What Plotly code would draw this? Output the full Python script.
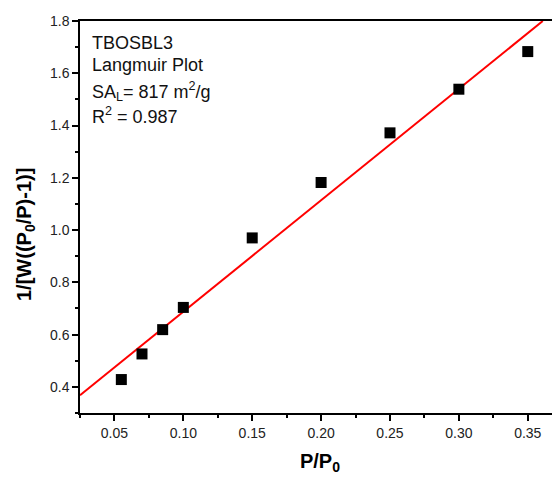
import plotly.graph_objects as go

# data
p_rel = [0.055, 0.07, 0.085, 0.10, 0.15, 0.20, 0.25, 0.30, 0.35]
langmuir_y = [0.428, 0.526, 0.619, 0.704, 0.970, 1.182, 1.372, 1.539, 1.683]
fit_x = [0.025, 0.3609]
fit_y = [0.368, 1.800]

x_range = [0.025, 0.3734]
y_range = [0.3, 1.8]

fig = go.Figure()
fig.add_trace(go.Scatter(x=fit_x, y=fit_y, mode="lines",
                         line=dict(color="#ff0000", width=2), showlegend=False, cliponaxis=True))
fig.add_trace(go.Scatter(x=p_rel, y=langmuir_y, mode="markers",
                         marker=dict(symbol="square", size=11, color="black"), showlegend=False))

ax_common = dict(showgrid=False, zeroline=False, showline=True, linecolor="black", linewidth=1.5,
                 ticks="outside", ticklen=6, tickwidth=1.5, tickcolor="black",
                 tickfont=dict(family="Arial, Liberation Sans", size=14, color="#222"))

fig.update_xaxes(range=x_range, dtick=0.05, tick0=0.05, tickformat=".2f", mirror=True,
                 minor=dict(ticks="outside", ticklen=3, dtick=0.025, tick0=0.025, tickcolor="black"),
                 **ax_common)
fig.update_yaxes(range=y_range, dtick=0.2, tick0=0.4, tickformat=".1f",
                 minor=dict(ticks="outside", ticklen=3, dtick=0.1, tick0=0.3, tickcolor="black"),
                 **ax_common)

# page has an 8px body margin: figure is drawn 8px right/down
fig.update_layout(width=552, height=472, margin=dict(l=72, r=0, t=13, b=67),
                  plot_bgcolor="white", paper_bgcolor="white",
                  font=dict(family="Arial, Liberation Sans", color="black"),
                  xaxis_title=dict(text="<b>P/P<sub>0</sub></b>", font=dict(size=20), standoff=14))

H = 392.0
def py(p):
    return (413 - p) / H

lines = ["TBOSBL3", "Langmuir Plot", "SA<sub>L</sub>= 817 m<sup>2</sup>/g", "R<sup>2</sup> = 0.987"]
centers = [43, 65, 91, 116]
for t, c in zip(lines, centers):
    fig.add_annotation(text=t, xref="paper", yref="paper", x=(90 - 80) / 480.0, y=py(c),
                       xanchor="left", yanchor="middle", showarrow=False,
                       font=dict(size=18, family="Arial, Liberation Sans", color="#111"))

fig.add_annotation(text="<b>1/[W((P<sub>0</sub>/P)-1)]</b>", xref="paper", yref="paper",
                   x=(25 - 80) / 480.0, y=py(235), textangle=-90, showarrow=False,
                   xanchor="center", yanchor="middle",
                   font=dict(size=20, family="Arial, Liberation Sans", color="black"))

fig.write_html("out.html")
